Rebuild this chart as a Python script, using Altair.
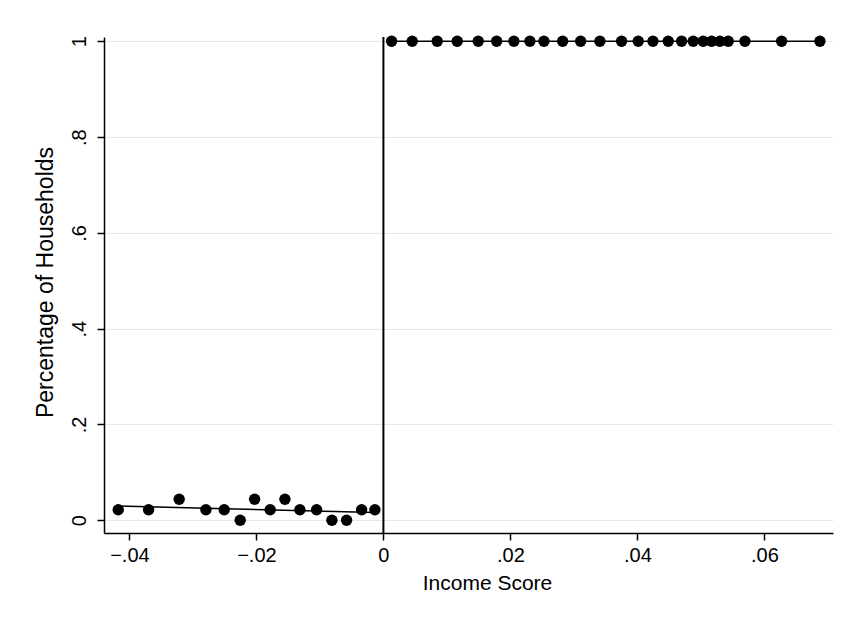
import altair as alt
import pandas as pd

# Binned means left of the cutoff
left_x = [-0.04176, -0.03698, -0.03216, -0.02795, -0.02507, -0.02255, -0.02028,
          -0.01783, -0.01551, -0.01315, -0.01052, -0.00811, -0.00580, -0.00343, -0.00134]
left_y = [0.022, 0.022, 0.044, 0.022, 0.022, 0.0, 0.044,
          0.022, 0.044, 0.022, 0.022, 0.0, 0.0, 0.022, 0.022]

# Binned means right of the cutoff
right_x = [0.00129, 0.00454, 0.00847, 0.01162, 0.01493, 0.01783, 0.02055, 0.02307,
           0.02528, 0.02822, 0.03106, 0.03409, 0.03751, 0.04013, 0.04244, 0.04485,
           0.04696, 0.04879, 0.05036, 0.05169, 0.05299, 0.05430, 0.05693, 0.06271, 0.06874]
right_y = [1.0] * len(right_x)

cutoff = [0.0]
x_ticks = [-0.04, -0.02, 0.0, 0.02, 0.04, 0.06]
y_ticks = [0.0, 0.2, 0.4, 0.6, 0.8, 1.0]

W, H = 729, 496
FONT = "Liberation Sans"

df = pd.DataFrame({
    "x": left_x + right_x,
    "y": left_y + right_y,
    "side": ["left"] * len(left_x) + ["right"] * len(right_x),
})

xscale = alt.Scale(domain=[-0.044, 0.0708], nice=False, zero=False)
yscale = alt.Scale(domain=[-0.0266, 1.009], nice=False, zero=False)

xaxis = alt.Axis(
    values=x_ticks, title="Income Score", grid=False,
    labelExpr="datum.value == 0 ? '0' : replace(format(datum.value, '.2f'), '0.', '.')",
    labelFont=FONT, labelFontSize=20, labelColor="black", labelPadding=5,
    titleFont=FONT, titleFontSize=21, titleFontWeight="normal", titleColor="black",
    titleX=383, titleY=56, titleAlign="center", titleBaseline="alphabetic",
    domainColor="black", domainWidth=1.5, tickColor="black", tickWidth=1.5, tickSize=7,
)
yaxis = alt.Axis(
    values=y_ticks, title="Percentage of Households", grid=True,
    gridColor="#e8e8e8", gridWidth=1,
    labelExpr="datum.value == 0 ? '0' : datum.value == 1 ? '1' : replace(format(datum.value, '.1f'), '0.', '.')",
    labelFont=FONT, labelFontSize=20, labelColor="black", labelAngle=-90,
    labelAlign="center", labelBaseline="alphabetic", labelPadding=12,
    titleFont=FONT, titleFontSize=23, titleFontWeight="normal", titleColor="black",
    titleAngle=-90, titleX=-59, titleY=245, titleAlign="center", titleBaseline="middle",
    domainColor="black", domainWidth=1.5, tickColor="black", tickWidth=1.5, tickSize=7,
)

base = alt.Chart(df)

fit_left = base.transform_filter(alt.datum.side == "left").transform_regression(
    "x", "y").mark_line(color="black", strokeWidth=1.5).encode(
    x=alt.X("x:Q", scale=xscale, axis=xaxis), y=alt.Y("y:Q", scale=yscale, axis=yaxis))
fit_right = base.transform_filter(alt.datum.side == "right").transform_regression(
    "x", "y").mark_line(color="black", strokeWidth=1.5).encode(
    x=alt.X("x:Q", scale=xscale), y=alt.Y("y:Q", scale=yscale))

vline = alt.Chart(pd.DataFrame({"c": cutoff})).mark_rule(color="black", strokeWidth=2).encode(
    x=alt.X("c:Q", scale=xscale), y=alt.value(0), y2=alt.value(H))

points = base.mark_circle(color="black", opacity=1, size=130).encode(
    x=alt.X("x:Q", scale=xscale), y=alt.Y("y:Q", scale=yscale))

chart = alt.layer(fit_left, fit_right, vline, points).properties(
    width=W, height=H,
    padding={"left": 96, "top": 29, "right": 4, "bottom": 70},
    autosize=alt.AutoSizeParams(type="none"),
    background="white",
).configure_view(stroke=None)

chart.save("out.html", embed_options={"renderer": "svg", "actions": False})
